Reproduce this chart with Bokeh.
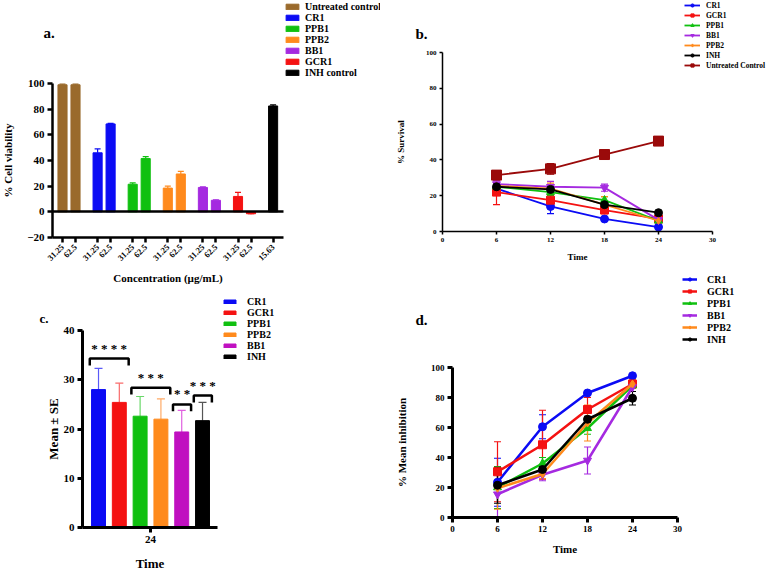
import math
from bokeh.plotting import figure
from bokeh.layouts import row, column
from bokeh.models import (ColumnDataSource, Range1d, FixedTicker, Legend, LegendItem,
                          Label, Whisker, TeeHead, LinearAxis)
from bokeh.embed import file_html
from bokeh.resources import INLINE

FONT = "Liberation Serif"

# ---------------- data ----------------
# panel a : % cell viability
a_names = ["Untreated control", "CR1", "PPB1", "PPB2", "BB1", "GCR1", "INH control"]
a_colors = ["#9A6A2C", "#0B0BF4", "#10C010", "#FF8A1C", "#A52AE0", "#F41212", "#000000"]
a_conc = [["31.25", "62.5"], ["31.25", "62.5"], ["31.25", "62.5"], ["31.25", "62.5"],
          ["31.25", "62.5"], ["31.25", "62.5"], ["15.63"]]
a_vals = [[99, 99], [46, 68.5], [21.5, 41.5], [18.5, 29.5], [19, 9], [12, -1.5], [82.5]]
a_errs = [[0.5, 0.5], [3, 0.5], [1, 1.5], [1.5, 2], [0.4, 0.4], [3.2, 0.4], [0.8]]
a_yticks = [-20, 0, 20, 40, 60, 80, 100]

# panel b : % survival
times = [6, 12, 18, 24]
time_ticks = [0, 6, 12, 18, 24, 30]
b_names = ["CR1", "GCR1", "PPB1", "BB1", "PPB2", "INH", "Untreated Control"]
b_colors = ["#0B0BF4", "#F41212", "#10C010", "#A52AE0", "#FF8A1C", "#000000", "#9A0A0A"]
b_markers = ["circle", "square", "triangle", "inverted_triangle", "diamond", "circle", "square"]
b_sizes = [8, 8, 8, 8, 7, 8, 10]
b_vals = [[24, 14, 7, 2.5], [22, 17.5, 12, 7], [25, 22, 17.5, 6], [26.5, 25, 24.5, 6.5],
          [25.5, 24, 15, 6], [25, 23.5, 15, 10.5], [31.5, 35, 43, 50.5]]
b_errs = [[3, 4, 1, 0.5], [7, 3, 2, 1], [2, 2, 2, 1], [2, 3, 2, 1],
          [2, 3, 4.5, 1], [1, 1, 1, 0.5], [1.5, 3, 1, 1.5]]
b_yticks = [0, 20, 40, 60, 80, 100]

# panel c : mean ± SE at 24 h
c_names = ["CR1", "GCR1", "PPB1", "PPB2", "BB1", "INH"]
c_colors = ["#0B0BF4", "#F41212", "#10C010", "#FF8A1C", "#C010C0", "#000000"]
c_err_colors = ["#5A5AF8", "#F86A6A", "#6AD86A", "#FFAA66", "#E060E0", "#555555"]
c_vals = [28, 25.4, 22.6, 22, 19.4, 21.7]
c_errs = [4.3, 3.9, 4.0, 4.1, 4.4, 3.7]
c_yticks = [0, 10, 20, 30, 40]
c_time_label = "24"
# significance brackets: first bar, last bar, height, stars
c_sig_first = [0, 2, 4, 5]
c_sig_last = [1, 3, 4, 5]
c_sig_height = [34.3, 28.4, 25.0, 26.8]
c_sig_text = ["* * * *", "* * *", "* *", "* * *"]

# panel d : % mean inhibition
d_names = ["CR1", "GCR1", "PPB1", "BB1", "PPB2", "INH"]
d_colors = ["#0B0BF4", "#F41212", "#10C010", "#A52AE0", "#FF8A1C", "#000000"]
d_markers = ["circle", "square", "triangle", "inverted_triangle", "diamond", "circle"]
d_vals = [[23.5, 60.5, 83, 94.5], [30.5, 48.5, 72, 89], [20, 36, 59.5, 88],
          [15.5, 28.5, 38, 87], [19.5, 29, 63, 89], [21.5, 32, 65.5, 79.5]]
d_errs = [[16, 8, 1, 1], [20, 23, 8, 2], [14, 4, 4, 2], [15, 4, 9, 3],
          [14, 3, 12, 3], [12, 2, 2, 4.5]]
d_yticks = [0, 20, 40, 60, 80, 100]


# ---------------- helpers ----------------
def make_fig(W, H, L, R, T, B, xr, yr):
    """Canvas-wide frame; the data box xr x yr occupies pixels [L,R] x [T,B]."""
    sx = (xr[1] - xr[0]) / (R - L)
    sy = (yr[1] - yr[0]) / (B - T)
    p = figure(width=W, height=H,
               x_range=Range1d(xr[0] - L * sx, xr[1] + (W - R) * sx),
               y_range=Range1d(yr[0] - (H - B) * sy, yr[1] + T * sy),
               output_backend="svg", toolbar_location=None,
               min_border_left=0, min_border_right=0, min_border_top=0, min_border_bottom=0)
    p.grid.visible = False
    p.outline_line_color = None
    p.background_fill_color = "white"
    p.border_fill_color = "white"
    p.xaxis.fixed_location = yr[0]
    p.xaxis.bounds = xr
    p.yaxis.fixed_location = xr[0]
    p.yaxis.bounds = yr
    p._geom = (W, H, L, R, T, B, xr, yr)
    return p


def to_data(p, px, py):
    W, H, L, R, T, B, xr, yr = p._geom
    x = xr[0] + (px - L) / (R - L) * (xr[1] - xr[0])
    y = yr[1] - (py - T) / (B - T) * (yr[1] - yr[0])
    return x, y


def style_axis(ax, tick_size, lw, tick_out, label_size, label_standoff, tick_standoff=3):
    ax.axis_line_width = lw
    ax.axis_line_color = "black"
    ax.major_tick_line_width = lw
    ax.major_tick_out = tick_out
    ax.major_tick_in = 0
    ax.minor_tick_line_color = None
    ax.major_label_text_font = FONT
    ax.major_label_text_font_style = "bold"
    ax.major_label_text_font_size = f"{tick_size}px"
    ax.major_label_text_color = "black"
    ax.major_label_standoff = tick_standoff
    ax.axis_label_text_font = FONT
    ax.axis_label_text_font_style = "bold"
    ax.axis_label_text_font_size = f"{label_size}px"
    ax.axis_label_text_color = "black"
    ax.axis_label_standoff = label_standoff


def add_legend(p, items, glyph_left, first_center, pitch, font_size, glyph_w, glyph_h, standoff):
    W, H = p._geom[0], p._geom[1]
    n = len(items)
    top = first_center - pitch / 2
    bottom = top + n * pitch
    leg = Legend(items=items, location=(glyph_left, H - bottom), orientation="vertical",
                 padding=0, margin=0, spacing=0, label_height=pitch, glyph_width=glyph_w,
                 glyph_height=glyph_h, label_standoff=standoff,
                 label_text_font=FONT, label_text_font_style="bold",
                 label_text_font_size=f"{font_size}px", label_text_color="black",
                 border_line_color=None, background_fill_alpha=0)
    p.add_layout(leg)


def panel_label(p, text, px, py, size):
    x, y = to_data(p, px, py)
    p.add_layout(Label(x=x, y=y, text=text, text_font=FONT, text_font_style="bold",
                       text_font_size=f"{size}px", text_baseline="middle", text_align="left",
                       text_color="black"))


# ---------------- panel a ----------------
A_GROUP = 2.7
A_XR = (-0.77, 17.0)
pa = make_fig(380, 290, 52, 283, 83, 237, A_XR, (-20, 100))
a_tick_pos, a_tick_lab, a_items = [], [], []
for g, (name, col, concs, vals, errs) in enumerate(zip(a_names, a_colors, a_conc, a_vals, a_errs)):
    xs = [round(g * A_GROUP + k, 2) for k in range(len(concs))]
    a_tick_pos += xs
    a_tick_lab += concs
    src = ColumnDataSource(dict(x=xs, top=vals,
                                hi=[v + e if v >= 0 else v for v, e in zip(vals, errs)],
                                lo=[v if v >= 0 else v - e for v, e in zip(vals, errs)]))
    r = pa.vbar(x="x", top="top", bottom=0, width=0.7, source=src, fill_color=col, line_color=col)
    pa.add_layout(Whisker(base="x", upper="hi", lower="lo", source=src, line_color=col,
                          line_width=1.2, upper_head=TeeHead(size=6, line_color=col, line_width=1.2),
                          lower_head=None))
    a_items.append(LegendItem(label=name, renderers=[r]))
# zero line drawn as a tick-less axis at y = 0
zero_axis = LinearAxis(fixed_location=0, bounds=A_XR, ticker=FixedTicker(ticks=[]),
                       axis_line_width=2.5, major_label_text_font_size="0px")
pa.add_layout(zero_axis, "below")
pa.xaxis[0].ticker = FixedTicker(ticks=a_tick_pos)
pa.xaxis[0].major_label_overrides = {x: l for x, l in zip(a_tick_pos, a_tick_lab)}
pa.xaxis[0].major_label_orientation = math.pi / 4
pa.yaxis.ticker = FixedTicker(ticks=a_yticks)
pa.xaxis[0].axis_label = "Concentration (µg/mL)"
pa.yaxis.axis_label = "% Cell viability"
style_axis(pa.xaxis[0], 8.5, 2.5, 5, 11, 6)
style_axis(pa.yaxis[0], 11, 2.5, 5, 11, 10)
add_legend(pa, a_items, 284, 6, 11, 10, 16, 7, 5)
panel_label(pa, "a.", 43, 32, 15)

# ---------------- panel b ----------------
pb = make_fig(387, 268, 62, 332, 52, 231, (0, 30), (0, 100))
b_items = []
for name, col, mk, sz, vals, errs in zip(b_names, b_colors, b_markers, b_sizes, b_vals, b_errs):
    src = ColumnDataSource(dict(x=times, y=vals, lo=[v - e for v, e in zip(vals, errs)],
                                hi=[v + e for v, e in zip(vals, errs)]))
    lr = pb.line("x", "y", source=src, line_color=col, line_width=1.8)
    pb.add_layout(Whisker(base="x", upper="hi", lower="lo", source=src, line_color=col, line_width=1.2,
                          upper_head=TeeHead(size=7, line_color=col, line_width=1.2),
                          lower_head=TeeHead(size=7, line_color=col, line_width=1.2)))
    sr = pb.scatter("x", "y", source=src, marker=mk, size=sz, fill_color=col, line_color=col)
    b_items.append(LegendItem(label=name, renderers=[lr, sr]))
pb.xaxis.ticker = FixedTicker(ticks=time_ticks)
pb.yaxis.ticker = FixedTicker(ticks=b_yticks)
pb.xaxis.axis_label = "Time"
pb.yaxis.axis_label = "% Survival"
style_axis(pb.xaxis[0], 7, 1.5, 3, 9, 7)
style_axis(pb.yaxis[0], 7, 1.5, 3, 9, 17)
add_legend(pb, b_items, 304, 5, 10, 7.5, 16, 8, 6)
panel_label(pb, "b.", 35, 33, 15)

# ---------------- panel c ----------------
pc = make_fig(380, 284, 82, 217, 40, 237, (-0.77, 5.72), (0, 40))
c_x = list(range(len(c_names)))
c_items = []
for i, (name, col, ecol, v, e) in enumerate(zip(c_names, c_colors, c_err_colors, c_vals, c_errs)):
    src = ColumnDataSource(dict(x=[c_x[i]], top=[v], hi=[v + e]))
    r = pc.vbar(x="x", top="top", bottom=0, width=0.67, source=src, fill_color=col, line_color=col)
    pc.add_layout(Whisker(base="x", upper="hi", lower="top", source=src, line_color=ecol,
                          line_width=1.2, upper_head=TeeHead(size=8, line_color=ecol, line_width=1.2),
                          lower_head=None))
    c_items.append(LegendItem(label=name, renderers=[r]))
# significance brackets
for f, l, h, t in zip(c_sig_first, c_sig_last, c_sig_height, c_sig_text):
    x0 = c_x[f] - 0.42
    x1 = c_x[l] + 0.45
    drop = 1.4
    pc.line([x0, x0, x1, x1], [h - drop, h, h, h - drop], line_color="black", line_width=2.5)
    pc.add_layout(Label(x=(x0 + x1) / 2, y=h + 0.6, text=t, text_font=FONT, text_font_style="bold",
                        text_font_size="13px", text_align="center", text_baseline="bottom",
                        text_color="black"))
c_mid = (c_x[0] + c_x[-1]) / 2
pc.xaxis.ticker = FixedTicker(ticks=[c_mid])
pc.xaxis.major_label_overrides = {c_mid: c_time_label}
pc.yaxis.ticker = FixedTicker(ticks=c_yticks)
pc.xaxis.axis_label = "Time"
pc.yaxis.axis_label = "Mean ± SE"
style_axis(pc.xaxis[0], 11, 3, 5, 13, 10)
style_axis(pc.yaxis[0], 11, 3, 5, 13, 0)
add_legend(pc, c_items, 222, 17, 10, 10, 15, 5, 10)
panel_label(pc, "c.", 39, 28, 13)

# ---------------- panel d ----------------
pd_ = make_fig(387, 306, 72, 297, 99, 249, (0, 30), (0, 100))
d_items = []
for name, col, mk, vals, errs in zip(d_names, d_colors, d_markers, d_vals, d_errs):
    src = ColumnDataSource(dict(x=times, y=vals, lo=[max(v - e, 0) for v, e in zip(vals, errs)],
                                hi=[v + e for v, e in zip(vals, errs)]))
    lr = pd_.line("x", "y", source=src, line_color=col, line_width=2.5)
    pd_.add_layout(Whisker(base="x", upper="hi", lower="lo", source=src, line_color=col, line_width=1.2,
                           upper_head=TeeHead(size=7, line_color=col, line_width=1.2),
                           lower_head=TeeHead(size=7, line_color=col, line_width=1.2)))
    sr = pd_.scatter("x", "y", source=src, marker=mk, size=8, fill_color=col, line_color=col)
    d_items.append(LegendItem(label=name, renderers=[lr, sr]))
pd_.xaxis.ticker = FixedTicker(ticks=time_ticks)
pd_.yaxis.ticker = FixedTicker(ticks=d_yticks)
pd_.xaxis.axis_label = "Time"
pd_.yaxis.axis_label = "% Mean inhibition"
style_axis(pd_.xaxis[0], 9, 3, 5, 11, 8)
style_axis(pd_.yaxis[0], 9, 3, 5, 11, 20)
add_legend(pd_, d_items, 302, 11, 12, 10, 15, 8, 10)
panel_label(pd_, "d.", 35, 51, 15)

layout = row(column(pa, pc), column(pb, pd_))
open("out.html", "w").write(file_html(layout, INLINE))
